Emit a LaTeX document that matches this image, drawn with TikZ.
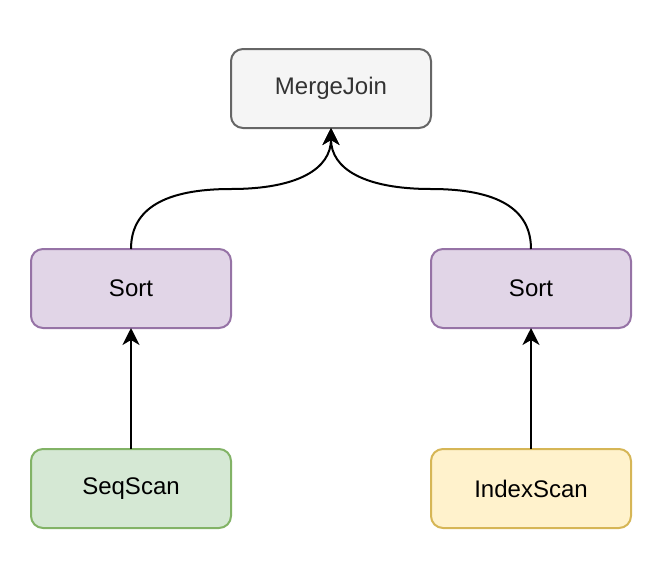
\documentclass[tikz,border=0pt]{standalone}
\usepackage{fontspec}
\setmainfont{Liberation Sans}
\usetikzlibrary{arrows.meta, positioning}

\definecolor{mergefill}{HTML}{F5F5F5}
\definecolor{mergeline}{HTML}{666666}
\definecolor{mergetext}{HTML}{333333}
\definecolor{sortfill}{HTML}{E1D5E7}
\definecolor{sortline}{HTML}{9673A6}
\definecolor{seqfill}{HTML}{D5E8D4}
\definecolor{seqline}{HTML}{82B366}
\definecolor{idxfill}{HTML}{FFF2CC}
\definecolor{idxline}{HTML}{D6B656}

\begin{document}
\begin{tikzpicture}[
		x=1pt, y=-1pt,
		box/.style={draw, line width=2pt, rounded corners=12pt, align=center, outer sep=0pt,
			minimum width=200pt, minimum height=79pt, font=\fontsize{24}{28}\selectfont},
		arrow/.style={-{Stealth[length=17pt, width=17pt, inset=5pt]}, line width=2pt}
		]
		\useasboundingbox (0,0) rectangle (662,568);
		
		% Nodes
		\node[box, fill=mergefill, draw=mergeline, text=mergetext] (merge) at (331,88.5) {MergeJoin};
		
		\node[box, fill=sortfill, draw=sortline, below left=121pt and 0pt of merge] (sortL) {Sort};
		
		\node[box, fill=sortfill, draw=sortline, below right=121pt and 0pt of merge] (sortR) {Sort};
		
		\node[box, fill=seqfill, draw=seqline, below=121pt of sortL] (seq) {SeqScan};
		
		\node[box, fill=idxfill, draw=idxline, below=121pt of sortR] (idx) {IndexScan};
		
		% Arrows
		\draw[arrow] (seq) -- (sortL);
		\draw[arrow] (idx) -- (sortR);
		\draw[arrow] (sortL.north) .. controls +(0,-40) and +(-66.7,0) .. (231,189)
			.. controls +(66.7,0) and +(0,40.7) .. (merge.south);
		\draw[arrow] (sortR.north) .. controls +(0,-40) and +(66.7,0) .. (431,189)
			.. controls +(-66.7,0) and +(0,40.7) .. (merge.south);
		
	\end{tikzpicture}
\end{document}
